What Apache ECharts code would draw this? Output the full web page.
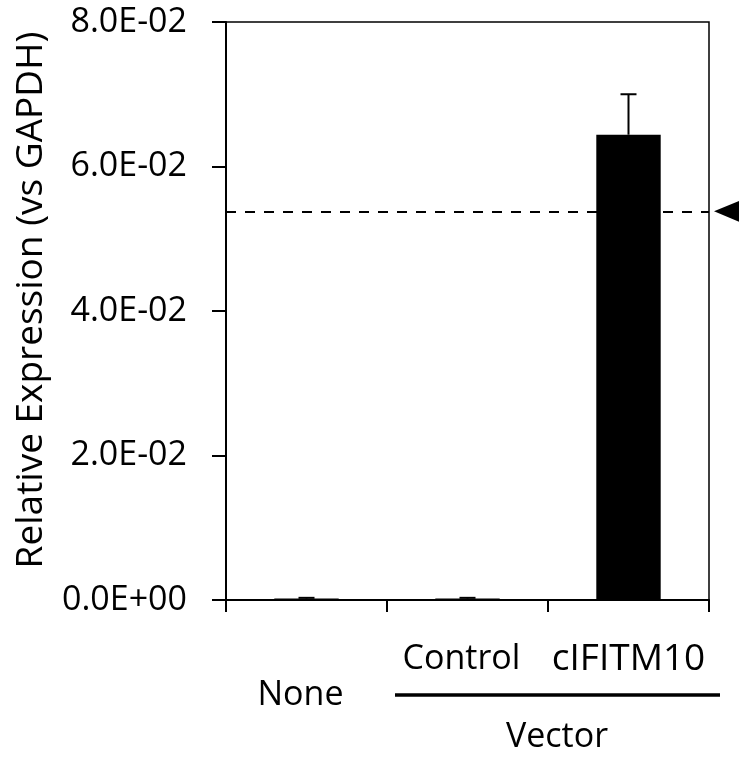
<!DOCTYPE html>
<html>
<head>
<meta charset="utf-8">
<script src="https://cdn.jsdelivr.net/npm/echarts@6/dist/echarts.min.js"></script>
<style>
html,body{margin:0;padding:0;background:#fff;}
#c{width:739px;height:759px;}
</style>
</head>
<body>
<div id="c"></div>
<script>
const categories = ['None', 'Control', 'cIFITM10'];
const values = [0.0002, 0.0002, 0.0644];
const errors = [0.0001, 0.0001, 0.0056];
const referenceLevel = 0.0538;
const yTickLabels = ['0.0E+00', '2.0E-02', '4.0E-02', '6.0E-02', '8.0E-02'];
const groupLabel = 'Vector';
const yTitle = 'Relative Expression (vs GAPDH)';

const FONT = 'Open Sans';
const chart = echarts.init(document.getElementById('c'));

const errData = values.map((v, i) => [i, v, errors[i]]);

const option = {
  animation: false,
  backgroundColor: '#fff',
  grid: {left: 226, right: 30, top: 22, bottom: 159, outerBoundsMode: 'none', containLabel: false, show: true, borderColor: '#000', borderWidth: 1.5},
  xAxis: {
    type: 'category',
    data: categories,
    axisLine: {lineStyle: {color: '#000', width: 2}},
    axisTick: {show: true, length: 12, lineStyle: {color: '#000', width: 2}},
    axisLabel: {
      margin: 41,
      color: '#000',
      fontFamily: FONT,
      fontSize: 34,
      lineHeight: 36,
      interval: 0,
      formatter: function (name) {
        if (name === 'None') return '\n{n|' + name + '}';
        if (name === 'Control') return '{c|' + name + '}';
        return '{d|' + name + '}';
      },
      rich: {
        n: {fontFamily: FONT, fontSize: 34, lineHeight: 36, color: '#000', padding: [0, 12, 0, 0]},
        c: {fontFamily: FONT, fontSize: 34, lineHeight: 36, color: '#000', padding: [0, 12, 0, 0]},
        d: {fontFamily: FONT, fontSize: 37, lineHeight: 36, color: '#000'}
      }
    }
  },
  yAxis: {
    type: 'value',
    min: 0, max: 0.08, interval: 0.02,
    name: yTitle,
    nameLocation: 'middle',
    nameGap: 176,
    nameRotate: 90,
    nameTextStyle: {fontFamily: FONT, fontSize: 37, color: '#000', padding: [0, 0, 0, 22]},
    axisLine: {show: true, lineStyle: {color: '#000', width: 2}},
    axisTick: {show: true, length: 14, lineStyle: {color: '#000', width: 2}},
    splitLine: {show: false},
    axisLabel: {
      margin: 39,
      color: '#000',
      fontFamily: FONT,
      fontSize: 34,
      formatter: function (v) { return yTickLabels[Math.round(v / 0.02)]; }
    }
  },
  series: [
    {
      type: 'line',
      data: [],
      z: 1,
      markLine: {
        silent: true,
        precision: 5,
        symbol: ['none', 'none'],
        label: {show: false},
        lineStyle: {color: '#000', width: 2, type: [10, 9]},
        data: [{yAxis: referenceLevel}]
      }
    },
    {
      type: 'bar',
      data: values,
      barWidth: '40%',
      z: 3,
      itemStyle: {color: '#000'}
    },
    {
      type: 'custom',
      z: 4,
      data: errData,
      renderItem: function (params, api) {
        const x = api.value(0), v = api.value(1), e = api.value(2);
        const base = api.coord([x, v]);
        const top = api.coord([x, v + e]);
        const hw = 8;
        return {
          type: 'group',
          children: [
            {type: 'line', shape: {x1: base[0], y1: base[1], x2: top[0], y2: top[1]}, style: {stroke: '#000', lineWidth: 2}},
            {type: 'line', shape: {x1: top[0] - hw, y1: top[1], x2: top[0] + hw, y2: top[1]}, style: {stroke: '#000', lineWidth: 2}}
          ]
        };
      }
    }
  ]
};
chart.setOption(option);

const p1 = chart.convertToPixel({gridIndex: 0}, [1, referenceLevel]);
const p2 = chart.convertToPixel({gridIndex: 0}, [2, referenceLevel]);
const rightEdge = p2[0] + (p2[0] - p1[0]) / 2;
const tip = rightEdge + 5;
const ty = p2[1];
chart.setOption({
  graphic: [
    {type: 'polygon', shape: {points: [[tip, ty], [tip + 30, ty - 12.5], [tip + 30, ty + 12.5]]}, style: {fill: '#000'}},
    {type: 'line', shape: {x1: 395, y1: 695, x2: 720, y2: 695}, style: {stroke: '#000', lineWidth: 3.5}},
    {type: 'text', x: 557, y: 737, style: {text: groupLabel, fontFamily: FONT, fontSize: 34, fill: '#000', align: 'center', verticalAlign: 'middle'}}
  ]
});
</script>
</body>
</html>
